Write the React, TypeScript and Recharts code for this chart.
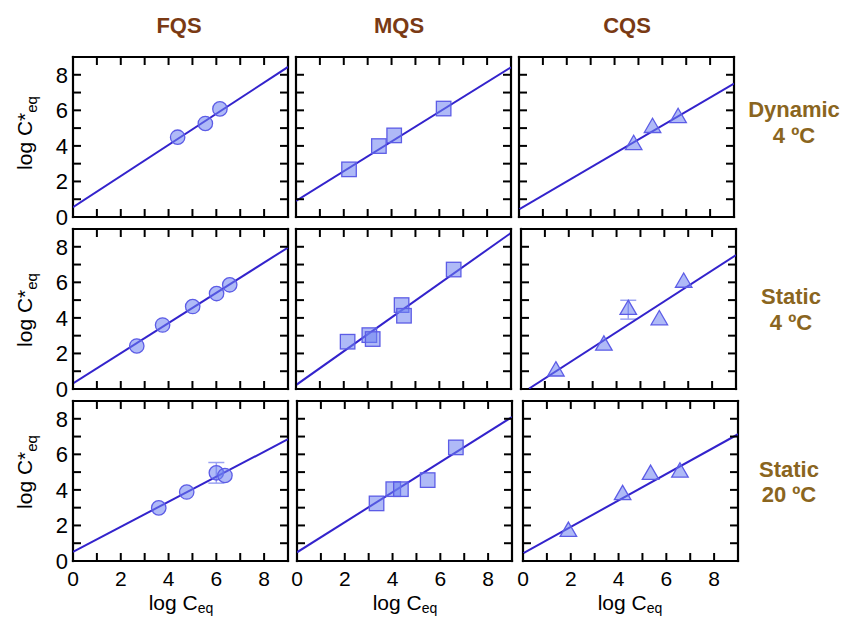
import React from 'react';
import { ComposedChart, Scatter, XAxis, YAxis, ErrorBar } from 'recharts';

// ---- data ----
const columnTitles = ['FQS', 'MQS', 'CQS'];
const rowLabels = [['Dynamic', '4 ºC'], ['Static', '4 ºC'], ['Static', '20 ºC']];
const axisTicks = [0, 1, 2, 3, 4, 5, 6, 7, 8, 9];

const fqsDynX = [4.38, 5.54, 6.15];
const fqsDynY = [4.49, 5.26, 6.08];
const mqsDynX = [2.22, 3.47, 4.11, 6.18];
const mqsDynY = [2.68, 3.99, 4.59, 6.1];
const cqsDynX = [4.8, 5.59, 6.66];
const cqsDynY = [4.06, 5.02, 5.58];

const fqsS4X = [2.67, 3.75, 5.01, 6.01, 6.56];
const fqsS4Y = [2.42, 3.6, 4.64, 5.37, 5.86];
const mqsS4X = [2.16, 3.07, 3.21, 4.42, 4.52, 6.6];
const mqsS4Y = [2.66, 3.03, 2.81, 4.72, 4.12, 6.72];
const cqsS4X = [1.46, 3.47, 4.49, 5.79, 6.81];
const cqsS4Y = [1.0, 2.45, 4.46, 3.88, 5.99];
const cqsS4Err = [null, null, 0.53, null, null];

const fqsS20X = [3.59, 4.76, 6.0, 6.36];
const fqsS20Y = [2.99, 3.88, 4.96, 4.81];
const fqsS20Err = [null, null, 0.58, null];
const mqsS20X = [3.33, 4.03, 4.35, 5.47, 6.65];
const mqsS20Y = [3.24, 4.04, 4.04, 4.55, 6.39];
const cqsS20X = [1.9, 4.17, 5.34, 6.57];
const cqsS20Y = [1.65, 3.72, 4.86, 4.99];

// fitted line end points [x0, y0, x1, y1]
const fitFqsDyn = [0, 0.55, 9, 8.44];
const fitMqsDyn = [0, 0.9, 9, 8.42];
const fitCqsDyn = [0, 0.43, 9, 7.51];
const fitFqsS4 = [0, 0.32, 9, 7.96];
const fitMqsS4 = [0, 0.22, 9, 8.78];
const fitCqsS4 = [0.31, 0, 9, 7.53];
const fitFqsS20 = [0, 0.52, 9, 6.85];
const fitMqsS20 = [0, 0.49, 9, 8.1];
const fitCqsS20 = [0, 0.43, 9, 7.13];

const toPoints = (xs: number[], ys: number[], errs?: (number | null)[]) =>
  xs.map((x, i) => ({ x, y: ys[i], err: errs && errs[i] != null ? errs[i] : undefined }));
const toLine = (f: number[]) => [
  { x: f[0], y: f[1] },
  { x: f[2], y: f[3] },
];

type Panel = { pts: any[]; fit: any[]; shape: 'circle' | 'square' | 'triangle' };
const panels: Panel[][] = [
  [
    { pts: toPoints(fqsDynX, fqsDynY), fit: toLine(fitFqsDyn), shape: 'circle' },
    { pts: toPoints(mqsDynX, mqsDynY), fit: toLine(fitMqsDyn), shape: 'square' },
    { pts: toPoints(cqsDynX, cqsDynY), fit: toLine(fitCqsDyn), shape: 'triangle' },
  ],
  [
    { pts: toPoints(fqsS4X, fqsS4Y), fit: toLine(fitFqsS4), shape: 'circle' },
    { pts: toPoints(mqsS4X, mqsS4Y), fit: toLine(fitMqsS4), shape: 'square' },
    { pts: toPoints(cqsS4X, cqsS4Y, cqsS4Err), fit: toLine(fitCqsS4), shape: 'triangle' },
  ],
  [
    { pts: toPoints(fqsS20X, fqsS20Y, fqsS20Err), fit: toLine(fitFqsS20), shape: 'circle' },
    { pts: toPoints(mqsS20X, mqsS20Y), fit: toLine(fitMqsS20), shape: 'square' },
    { pts: toPoints(cqsS20X, cqsS20Y), fit: toLine(fitCqsS20), shape: 'triangle' },
  ],
];

// ---- layout / style ----
const FONT = '"Liberation Sans", Arial, Helvetica, sans-serif';
const PLOT_W = 215;
const PLOT_H = 160;
const Y_AXIS_W = 50;
const X_AXIS_H = 44;
const TOP_AXIS_H = 1;
const RIGHT_AXIS_W = 1;
const M_TOP = 3;
const M_RIGHT = 3;
const TICK_LEN = 8;
const rowTops = [57, 228.5, 401];
const colLefts = [
  [72.5, 296, 518.5],
  [72.5, 296, 521],
  [72.5, 296.5, 523],
];
const LINE_COLOR = '#3323cc';
const MARK_FILL = 'rgba(110,130,240,0.55)';
const MARK_STROKE = '#5c5ce6';
const TITLE_COLOR = '#7a3a14';
const ROW_COLOR = '#8a6520';

const MarkerShape = (kind: string) => (props: any) => {
  const { cx, cy } = props;
  if (cx == null || cy == null) return <g />;
  if (kind === 'circle') {
    return <circle cx={cx} cy={cy} r={7.2} fill={MARK_FILL} stroke={MARK_STROKE} strokeWidth={1.3} />;
  }
  if (kind === 'square') {
    const s = 14.5;
    return (
      <rect x={cx - s / 2} y={cy - s / 2} width={s} height={s} fill={MARK_FILL} stroke={MARK_STROKE} strokeWidth={1.3} />
    );
  }
  const s = 16.5;
  const top = cy - s / Math.sqrt(3);
  const base = cy + s / (2 * Math.sqrt(3));
  return (
    <path
      d={`M${cx},${top}L${cx + s / 2},${base}L${cx - s / 2},${base}Z`}
      fill={MARK_FILL}
      stroke={MARK_STROKE}
      strokeWidth={1.3}
    />
  );
};

const NoShape = () => <g />;
const evenOnly = (v: number) => v % 2 === 0;

// custom tick: inward tick mark + optional label
const makeTick = (side: 'bottom' | 'top' | 'left' | 'right', showLabel: boolean) => (props: any) => {
  const { x, y, payload } = props;
  const v = payload ? payload.value : 0;
  let line;
  let label = null;
  if (side === 'bottom') {
    line = <line x1={x} x2={x} y1={y} y2={y - TICK_LEN} stroke="#000" strokeWidth={2} />;
    if (showLabel && evenOnly(v))
      label = (
        <text x={x} y={y + 10} dy="0.71em" textAnchor="middle" fontSize={21} fontFamily={FONT} fill="#000">
          {v}
        </text>
      );
  } else if (side === 'top') {
    line = <line x1={x} x2={x} y1={y} y2={y + TICK_LEN} stroke="#000" strokeWidth={2} />;
  } else if (side === 'left') {
    line = <line x1={x} x2={x + TICK_LEN} y1={y} y2={y} stroke="#000" strokeWidth={2} />;
    if (showLabel && evenOnly(v))
      label = (
        <text x={x - 5} y={y} dy="0.355em" textAnchor="end" fontSize={22} fontFamily={FONT} fill="#000">
          {v}
        </text>
      );
  } else {
    line = <line x1={x} x2={x - TICK_LEN} y1={y} y2={y} stroke="#000" strokeWidth={2} />;
  }
  return (
    <g>
      {line}
      {label}
    </g>
  );
};

const axisLine = { stroke: '#000', strokeWidth: 2.2, strokeLinecap: 'square' as const };

function PanelChart({ panel, showX, showY }: { panel: Panel; showX: boolean; showY: boolean }) {
  const common = {
    type: 'number' as const,
    domain: [0, 9] as [number, number],
    allowDataOverflow: true,
    ticks: axisTicks,
    interval: 0 as const,
    tickSize: 0,
    tickMargin: 0,
    tickLine: false,
    axisLine,
  };
  return (
    <ComposedChart
      width={Y_AXIS_W + PLOT_W + RIGHT_AXIS_W + M_RIGHT}
      height={M_TOP + TOP_AXIS_H + PLOT_H + X_AXIS_H}
      margin={{ top: M_TOP, right: M_RIGHT, bottom: 0, left: 0 }}
    >
      <XAxis {...common} xAxisId="b" orientation="bottom" dataKey="x" height={X_AXIS_H} tick={makeTick('bottom', showX)} />
      <YAxis {...common} yAxisId="l" orientation="left" dataKey="y" width={Y_AXIS_W} tick={makeTick('left', showY)} />
      <XAxis {...common} xAxisId="t" orientation="top" dataKey="x" height={TOP_AXIS_H} tick={makeTick('top', false)} />
      <YAxis {...common} yAxisId="r" orientation="right" dataKey="y" width={RIGHT_AXIS_W} tick={makeTick('right', false)} />
      <Scatter
        xAxisId="t"
        yAxisId="r"
        data={panel.fit}
        line={{ stroke: LINE_COLOR, strokeWidth: 2 }}
        shape={NoShape}
        isAnimationActive={false}
      />
      <Scatter
        xAxisId="b"
        yAxisId="l"
        data={panel.pts}
        shape={MarkerShape(panel.shape)}
        isAnimationActive={false}
      >
        <ErrorBar dataKey="err" direction="y" width={8} stroke="#9aa2f2" strokeWidth={1.5} isAnimationActive={false} />
      </Scatter>
    </ComposedChart>
  );
}

const titleX = [179, 399, 627];
const rowLabelX = [794, 791, 789];
const rowLabelY = [
  [117, 143],
  [304, 330],
  [477, 502],
];
const yLabelY = [133, 310, 472];
const xLabelX = [181, 405, 630];

export default function App() {
  return (
    <div style={{ position: 'absolute', left: 0, top: 0, width: 843, height: 617, background: '#fff', overflow: 'hidden' }}>
      {panels.map((row, r) =>
        row.map((panel, c) => (
          <div
            key={`${r}-${c}`}
            style={{
              position: 'absolute',
              left: colLefts[r][c] - Y_AXIS_W,
              top: rowTops[r] - M_TOP - TOP_AXIS_H,
            }}
          >
            <PanelChart panel={panel} showX={r === 2} showY={c === 0} />
          </div>
        ))
      )}
      <svg
        width={843}
        height={617}
        style={{ position: 'absolute', left: 0, top: 0, pointerEvents: 'none' }}
        fontFamily={FONT}
      >
        {columnTitles.map((t, i) => (
          <text key={t} x={titleX[i]} y={33} textAnchor="middle" fontSize={22} fontWeight="bold" fill={TITLE_COLOR}>
            {t}
          </text>
        ))}
        {rowLabels.map((lines, r) =>
          lines.map((t, k) => (
            <text
              key={`${r}-${k}`}
              x={rowLabelX[r]}
              y={rowLabelY[r][k]}
              textAnchor="middle"
              fontSize={22}
              fontWeight="bold"
              fill={ROW_COLOR}
            >
              {t}
            </text>
          ))
        )}
        {yLabelY.map((y, r) => (
          <text key={`yl${r}`} transform={`translate(32, ${y}) rotate(-90)`} textAnchor="middle" fontSize={21} fill="#000">
            log C*
            <tspan dy={5} fontSize={15}>
              eq
            </tspan>
          </text>
        ))}
        {xLabelX.map((x, c) => (
          <text key={`xl${c}`} x={x} y={610} textAnchor="middle" fontSize={21} fill="#000">
            log C
            <tspan dy={3} fontSize={14}>
              eq
            </tspan>
          </text>
        ))}
      </svg>
    </div>
  );
}
